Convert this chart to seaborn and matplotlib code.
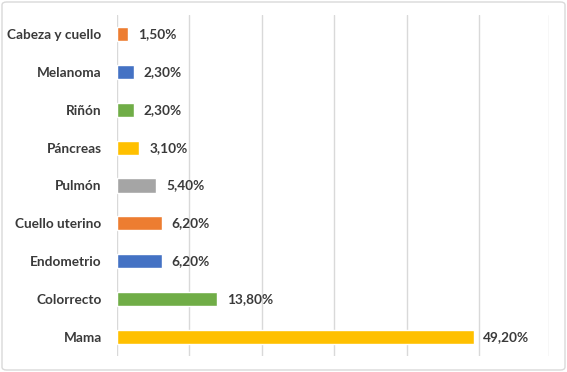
import matplotlib
matplotlib.use("Agg")
import matplotlib.pyplot as plt
import seaborn as sns
import pandas as pd
from matplotlib.patches import FancyBboxPatch

categories = ["Cabeza y cuello", "Melanoma", "Riñón", "Páncreas", "Pulmón",
              "Cuello uterino", "Endometrio", "Colorrecto", "Mama"]
values = [1.5, 2.3, 2.3, 3.1, 5.4, 6.2, 6.2, 13.8, 49.2]
value_labels = ["1,50%", "2,30%", "2,30%", "3,10%", "5,40%", "6,20%", "6,20%", "13,80%", "49,20%"]
colors = ["#ED7D31", "#4472C4", "#70AD47", "#FFC000", "#A5A5A5",
          "#ED7D31", "#4472C4", "#70AD47", "#FFC000"]

sns.set_theme(style="white")
plt.rcParams['font.family'] = ['Lato', 'DejaVu Sans']

df = pd.DataFrame({"cat": categories, "val": values})

fig = plt.figure(figsize=(5.67, 3.72), dpi=100)
ax = fig.add_axes([117/567, 1-356/372, (549-117)/567, (356-15)/372])

sns.barplot(data=df, y="cat", x="val", hue="cat", palette=colors, legend=False,
            width=0.37, ax=ax, orient="h", saturation=1)

ax.set_xlim(0, 59.6)
ax.set_xticks(range(0, 60, 10))
ax.set_xticklabels([])
ax.tick_params(axis="x", length=0)
ax.tick_params(axis="y", length=0, pad=11)
ax.xaxis.grid(True, color="#d9d9d9", linewidth=1)
ax.set_axisbelow(True)
for s in ax.spines.values():
    s.set_visible(False)
ax.axvline(59.6, color="#d9d9d9", linewidth=1, zorder=0)
ax.set_xlabel("")
ax.set_ylabel("")
for lab in ax.get_yticklabels():
    lab.set_fontweight("bold")
    lab.set_fontsize(9.8)
    lab.set_color("#3a3a3a")

for i, c in enumerate(ax.containers):
    ax.bar_label(c, labels=[value_labels[i]], padding=7, fontsize=9.8,
                 fontweight="bold", color="#3a3a3a")

border = FancyBboxPatch((2/567, 2/372), 1-4/567, 1-4/372,
                        boxstyle="round,pad=0,rounding_size=0.008",
                        transform=fig.transFigure, fill=False,
                        edgecolor="#d9d9d9", linewidth=1)
fig.patches.append(border)

fig.savefig("out.png", dpi=100)
